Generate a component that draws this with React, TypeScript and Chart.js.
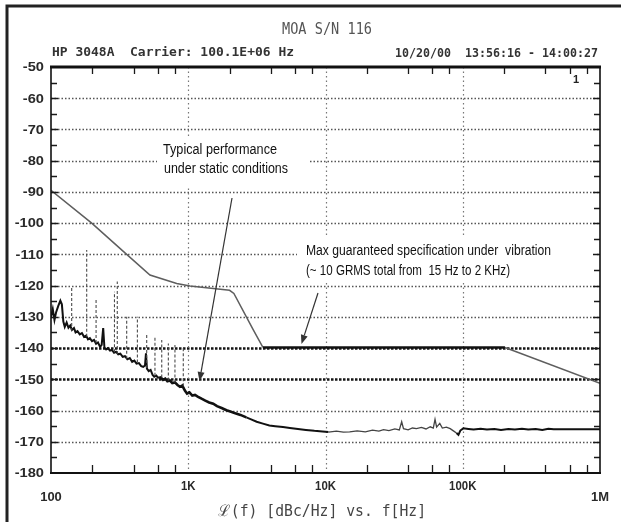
import { useEffect, useRef } from "react";
import { Chart, registerables } from "chart.js";

Chart.register(...registerables);

// ---------- data ----------
const yTicks = [-50, -60, -70, -80, -90, -100, -110, -120, -130, -140, -150, -160, -170, -180];
const heavyGrid = [-140, -150];
const xDecades = [100, 1000, 10000, 100000, 1000000];
const xTickLabels = ["100", "1K", "10K", "100K", "1M"];
const minorMultipliers = [2, 4, 6, 8];

const specFreq = [100, 198, 346, 526, 824, 1030, 1524, 2000, 2150, 2978, 3500, 203000, 1000000];
const specDb = [-89.5, -100, -109.5, -116.6, -119.3, -120.1, -120.9, -121.5, -122.5, -134.2, -139.8, -139.8, -151.3];

const noiseFreq = [
  100, 103, 106, 109, 113, 117, 120, 123, 126, 130, 134, 138, 142, 147, 151, 156, 162, 168, 174, 180,
  186, 192, 199, 206, 213, 220, 228, 234, 240, 245, 252, 260, 269, 278, 288, 298, 309, 320, 333, 346,
  360, 375, 390, 405, 420, 437, 454, 470, 484, 492, 500, 515, 532, 550, 565, 585, 605, 630, 655, 680,
  705, 735, 765, 800, 835, 870, 905, 945, 980, 1020, 1070, 1120, 1180, 1250, 1330, 1420, 1520, 1620, 1750, 1900,
  2050, 2200, 2400, 2650, 2900, 3150, 3500, 3900, 4300, 4900, 5500, 6300, 7200, 8300, 9500, 10500, 12000, 13500, 15000, 17000,
  19500, 22000, 24500, 26500, 29000, 32000, 34500, 35900, 37000, 40000, 43000, 46000, 50000, 54000, 58000, 61000, 62800, 64500, 68000, 71000,
  76000, 81000, 86000, 90000, 93000, 96000, 101000, 110000, 120000, 135000, 150000, 170000, 190000, 215000, 240000, 270000, 300000, 340000, 380000, 420000,
  460000, 500000, 600000, 700000, 800000, 1000000,
];
const noiseDb = [
  -130.0, -127.5, -131.0, -128.5, -126.5, -124.8, -126.0, -131.5, -133.2, -131.8, -133.5, -132.8, -134.2, -133.6, -135.0, -134.6, -135.6, -135.2, -136.4, -136.0,
  -137.2, -136.8, -137.8, -137.4, -138.6, -138.2, -139.6, -139.0, -133.6, -139.8, -140.4, -140.0, -140.8, -140.6, -141.5, -141.2, -142.0, -141.8, -142.8, -142.6,
  -143.6, -143.2, -144.4, -144.0, -145.0, -144.8, -145.8, -146.0, -145.6, -141.7, -146.6, -147.4, -147.0, -148.6, -149.2, -148.8, -149.6, -149.4, -150.2, -149.8,
  -150.6, -150.4, -151.2, -151.0, -151.8, -152.4, -152.0, -153.6, -154.6, -154.2, -155.2, -155.0, -155.6, -156.2, -156.8, -157.4, -157.8, -158.6, -159.2, -159.9,
  -160.4, -160.9, -161.4, -162.2, -162.9, -163.6, -164.2, -164.8, -165.0, -165.3, -165.6, -165.9, -166.2, -166.5, -166.7, -166.9, -166.6, -166.9, -166.8, -166.5,
  -166.8, -166.3, -166.6, -166.1, -166.4, -165.9, -166.2, -163.6, -165.8, -166.2, -165.6, -165.8, -165.4, -165.9, -165.2, -165.6, -162.8, -165.3, -164.1, -165.6,
  -165.3, -165.8, -166.6, -167.2, -167.8, -166.4, -165.7, -165.9, -166.1, -165.8, -166.1, -165.9, -166.2, -165.9, -166.1, -165.8, -166.1, -165.9, -166.2, -165.8,
  -166.0, -166.0, -166.0, -166.0, -166.0, -166.0,
];

const spurFreq = [141.5, 182, 213, 290, 304, 356, 426, 498, 572, 641, 716, 800, 920];
const spurBase = [-134.5, -136.4, -138.4, -141.3, -141.9, -143.4, -144.6, -146.4, -148.9, -149.4, -150.4, -151.0, -152.2];
const spurPeak = [-120.1, -108.6, -124.6, -122.0, -118.7, -130.0, -130.0, -135.3, -136.4, -137.4, -138.5, -139.0, -139.6];

const titleText = "MOA S/N 116";
const headerLeft = "HP 3048A  Carrier: 100.1E+06 Hz";
const headerRight = "10/20/00  13:56:16 - 14:00:27";
const xAxisTitle = "\u2112(f) [dBc/Hz] vs. f[Hz]";
const note1 = ["Typical performance", "under static conditions"];
const note2 = ["Max guaranteed specification under  vibration", "(~ 10 GRMS total from  15 Hz to 2 KHz)"];

// ---------- drawing helpers ----------
function fitText(ctx: CanvasRenderingContext2D, text: string, x: number, y: number, w: number, font: string, color: string, align: "left" | "center" | "right" = "left", sy = 1) {
  ctx.save();
  ctx.font = font;
  ctx.fillStyle = color;
  ctx.textBaseline = "middle";
  ctx.textAlign = "left";
  const m = ctx.measureText(text).width;
  const sx = w / m;
  const x0 = align === "left" ? x : align === "center" ? x - w / 2 : x - w;
  ctx.translate(x0, y);
  ctx.scale(sx, sy);
  ctx.fillText(text, 0, 0);
  ctx.restore();
}

function scaledText(ctx: CanvasRenderingContext2D, text: string, x: number, y: number, font: string, color: string, align: "left" | "center" | "right", sx: number) {
  ctx.save();
  ctx.font = font;
  ctx.fillStyle = color;
  ctx.textBaseline = "middle";
  ctx.textAlign = align;
  ctx.translate(x, y);
  ctx.scale(sx, 1);
  ctx.fillText(text, 0, 0);
  ctx.restore();
}

function arrow(ctx: CanvasRenderingContext2D, x1: number, y1: number, x2: number, y2: number) {
  ctx.save();
  ctx.strokeStyle = "#333";
  ctx.fillStyle = "#333";
  ctx.lineWidth = 1.2;
  ctx.setLineDash([]);
  const ang = Math.atan2(y2 - y1, x2 - x1);
  const hl = 9, hw = 3.5;
  const bx = x2 - hl * Math.cos(ang), by = y2 - hl * Math.sin(ang);
  ctx.beginPath();
  ctx.moveTo(x1, y1);
  ctx.lineTo(bx, by);
  ctx.stroke();
  ctx.beginPath();
  ctx.moveTo(x2, y2);
  ctx.lineTo(bx + hw * Math.sin(ang), by - hw * Math.cos(ang));
  ctx.lineTo(bx - hw * Math.sin(ang), by + hw * Math.cos(ang));
  ctx.closePath();
  ctx.fill();
  ctx.restore();
}

const decor = {
  id: "decor",
  beforeDatasetsDraw(chart: any) {
    const { ctx, chartArea: a } = chart;
    const xs = chart.scales.x, ys = chart.scales.y;
    ctx.save();
    // horizontal dotted grid
    yTicks.forEach((v) => {
      if (v === -50 || v === -180) return;
      const py = Math.round(ys.getPixelForValue(v)) + 0.5;
      const heavy = heavyGrid.includes(v);
      ctx.setLineDash(heavy ? [2.5, 1.5] : [1.5, 2]);
      ctx.lineWidth = heavy ? 2.4 : 1.4;
      ctx.strokeStyle = heavy ? "#151515" : "#555";
      ctx.beginPath();
      ctx.moveTo(a.left, py);
      ctx.lineTo(a.right, py);
      ctx.stroke();
    });
    // vertical dotted grid at decades
    xDecades.slice(1, -1).forEach((v) => {
      const px = Math.round(xs.getPixelForValue(v)) + 0.5;
      ctx.setLineDash([1.5, 3]);
      ctx.lineWidth = 1.2;
      ctx.strokeStyle = "#777";
      ctx.beginPath();
      ctx.moveTo(px, a.top);
      ctx.lineTo(px, a.bottom);
      ctx.stroke();
    });
    ctx.setLineDash([]);
    // white annotation boxes
    ctx.fillStyle = "#fff";
    ctx.fillRect(157, 137, 151, 50);
    ctx.fillRect(297, 235, 299, 48);
    ctx.restore();
  },
  afterDatasetsDraw(chart: any) {
    const { ctx, chartArea: a } = chart;
    const xs = chart.scales.x, ys = chart.scales.y;
    ctx.save();
    ctx.setLineDash([]);
    ctx.strokeStyle = "#1a1a1a";
    // inward ticks on left/right
    for (let v = -175; v <= -55; v += 5) {
      const py = Math.round(ys.getPixelForValue(v)) + 0.5;
      const len = v % 10 === 0 ? 7 : 6;
      ctx.lineWidth = 1.4;
      ctx.beginPath();
      ctx.moveTo(a.left, py); ctx.lineTo(a.left + len, py);
      ctx.moveTo(a.right, py); ctx.lineTo(a.right - len, py);
      ctx.stroke();
    }
    // inward log ticks on top/bottom
    xDecades.slice(0, -1).forEach((d) => {
      minorMultipliers.forEach((k) => {
        const px = Math.round(xs.getPixelForValue(k * d)) + 0.5;
        ctx.lineWidth = 1.3;
        ctx.beginPath();
        ctx.moveTo(px, a.bottom); ctx.lineTo(px, a.bottom - 8);
        ctx.moveTo(px, a.top); ctx.lineTo(px, a.top + 7);
        ctx.stroke();
      });
    });
    // plot frame
    ctx.strokeStyle = "#111";
    ctx.lineWidth = 3;
    ctx.beginPath(); ctx.moveTo(a.left - 1, a.top); ctx.lineTo(a.right + 1, a.top); ctx.stroke();
    ctx.lineWidth = 2;
    ctx.beginPath(); ctx.moveTo(a.left - 1, a.bottom); ctx.lineTo(a.right + 1, a.bottom); ctx.stroke();
    ctx.lineWidth = 1.6;
    ctx.beginPath();
    ctx.moveTo(a.left, a.top); ctx.lineTo(a.left, a.bottom);
    ctx.moveTo(a.right, a.top); ctx.lineTo(a.right, a.bottom);
    ctx.stroke();

    // y tick labels
    yTicks.forEach((v) => {
      scaledText(ctx, String(v), a.left - 7, ys.getPixelForValue(v) + 1, "bold 12px 'Liberation Sans', Arial, sans-serif", "#2a2a2a", "right", 1.22);
    });
    // x tick labels
    xDecades.forEach((v, i) => {
      const px = xs.getPixelForValue(v);
      const low = i === 0 || i === xDecades.length - 1;
      scaledText(ctx, xTickLabels[i], px, low ? a.bottom + 25 : a.bottom + 14, "bold 12px 'Liberation Sans', Arial, sans-serif", "#2a2a2a", "center", low ? 1.08 : 0.95);
    });

    // headers
    fitText(ctx, titleText, 327, 30, 90, "15px 'DejaVu Sans Mono', monospace", "#555", "center", 1.05);
    fitText(ctx, headerLeft, 52, 53, 242, "bold 12px 'DejaVu Sans Mono', monospace", "#333", "left", 1.05);
    fitText(ctx, headerRight, 598, 54, 203, "bold 12px 'DejaVu Sans Mono', monospace", "#333", "right", 1.05);
    fitText(ctx, xAxisTitle, 322, 512, 208, "15px 'DejaVu Sans Mono', monospace", "#444", "center", 1.05);

    // trace marker
    scaledText(ctx, "1", 576, 80, "bold 11px 'Liberation Sans', Arial, sans-serif", "#222", "center", 1);

    // annotations
    const nf = "14px 'Liberation Sans', Arial, sans-serif";
    fitText(ctx, note1[0], 163, 150, 114, nf, "#111");
    fitText(ctx, note1[1], 164, 169, 124, nf, "#111");
    fitText(ctx, note2[0], 306, 251, 245, nf, "#111");
    fitText(ctx, note2[1], 306, 271, 204, nf, "#111");
    arrow(ctx, 232, 198, 199.5, 381);
    arrow(ctx, 318, 293, 301.5, 344);

    // outer scan frame
    ctx.strokeStyle = "#222";
    ctx.lineWidth = 3;
    ctx.beginPath();
    ctx.moveTo(7, 522); ctx.lineTo(7, 6); ctx.lineTo(621, 6);
    ctx.stroke();
    ctx.restore();
  },
};

export default function App() {
  const ref = useRef<HTMLCanvasElement | null>(null);
  useEffect(() => {
    if (!ref.current) return;
    const spurData: any[] = [];
    spurFreq.forEach((f, i) => {
      spurData.push({ x: f, y: spurBase[i] }, { x: f, y: spurPeak[i] }, { x: f, y: null });
    });
    const chart = new Chart(ref.current, {
      type: "line",
      data: {
        datasets: [
          {
            label: "Spurs",
            data: spurData,
            borderColor: "#4a4a4a",
            borderWidth: 1.1,
            borderDash: [3, 2],
            pointRadius: 0,
            spanGaps: false,
          },
          {
            label: "Measured",
            data: noiseFreq.map((f, i) => ({ x: f, y: noiseDb[i] })),
            borderColor: "#111",
            borderWidth: 2,
            pointRadius: 0,
            segment: {
              borderWidth: (c: any) => (c.p0.parsed.x >= 10000 && c.p0.parsed.x < 90000 ? 1.3 : c.p0.parsed.x >= 600 && c.p0.parsed.x < 2500 ? 2.6 : 2),
              borderColor: (c: any) => (c.p0.parsed.x >= 10000 && c.p0.parsed.x < 90000 ? "#444" : "#111"),
            },
          },
          {
            label: "Spec",
            data: specFreq.map((f, i) => ({ x: f, y: specDb[i] })),
            borderColor: "#666",
            borderWidth: 1.5,
            pointRadius: 0,
            segment: {
              borderWidth: (c: any) => (c.p0.parsed.y === c.p1.parsed.y ? 2.6 : 1.5),
              borderColor: (c: any) => (c.p0.parsed.y === c.p1.parsed.y ? "#111" : "#5e5e5e"),
            },
          },
        ],
      },
      options: {
        responsive: false,
        animation: false,
        devicePixelRatio: 1,
        layout: { padding: { left: 51, right: 21, top: 67, bottom: 49 } },
        plugins: { legend: { display: false }, tooltip: { enabled: false } },
        elements: { line: { tension: 0 } },
        scales: {
          x: { type: "logarithmic", min: 100, max: 1000000, display: false },
          y: { type: "linear", min: -180, max: -50, display: false },
        },
      },
      plugins: [decor],
    } as any);
    return () => chart.destroy();
  }, []);
  return (
    <div style={{ position: "absolute", left: 0, top: 0, width: 621, height: 522, background: "#fff" }}>
      <canvas ref={ref} width={621} height={522} style={{ width: 621, height: 522, display: "block" }} />
    </div>
  );
}
